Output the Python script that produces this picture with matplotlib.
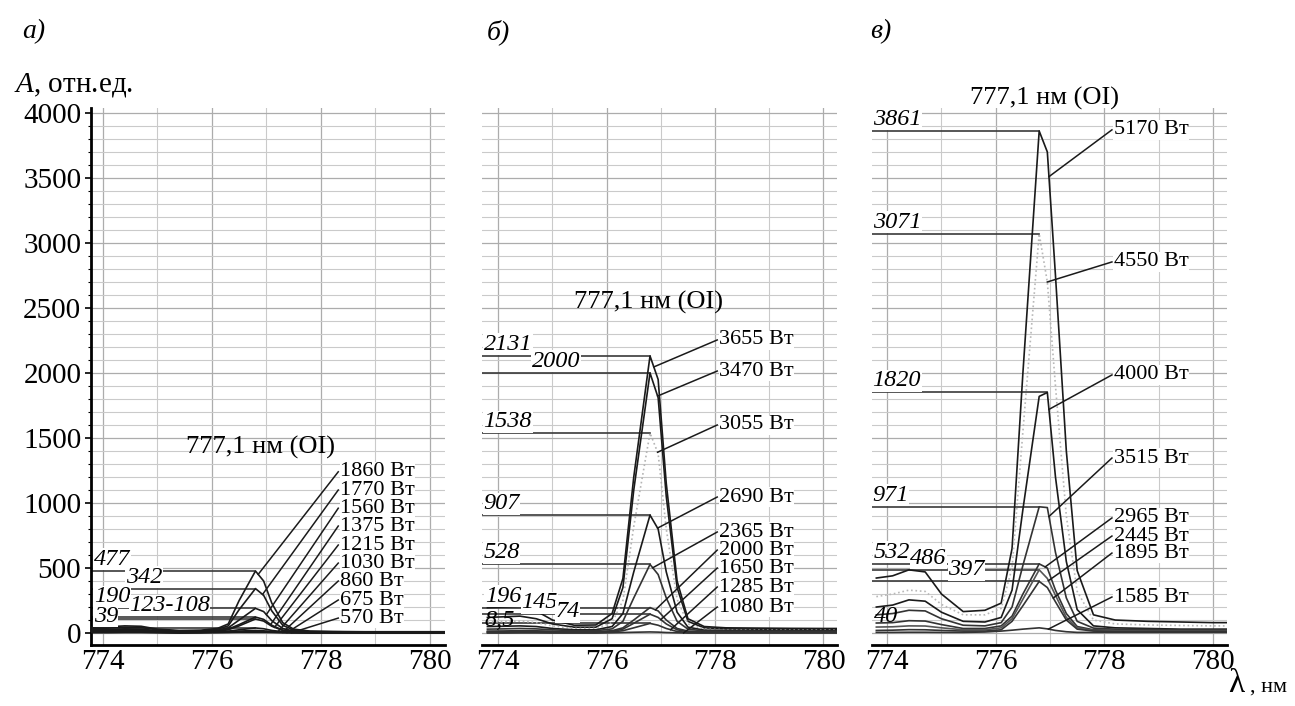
import numpy as np
import matplotlib
matplotlib.use("Agg")
import matplotlib.pyplot as plt
from matplotlib.ticker import MultipleLocator

plt.rcParams['font.family'] = ['Liberation Serif', 'DejaVu Serif']
plt.rcParams['mathtext.fontset'] = 'custom'
plt.rcParams['mathtext.it'] = 'Liberation Serif:italic'
plt.rcParams['mathtext.rm'] = 'Liberation Serif'

# ---------------- data ----------------
wavelength = [773.8, 774.1, 774.4, 774.7, 775.0, 775.4, 775.8, 776.1, 776.3, 776.5,
              776.8, 776.95, 777.1, 777.3, 777.5, 777.8, 778.2, 778.8, 779.4, 780.0, 780.3]

# panel а
powers_a = ["1860 Вт", "1770 Вт", "1560 Вт", "1375 Вт", "1215 Вт", "1030 Вт", "860 Вт", "675 Вт", "570 Вт"]
a_1860 = [45, 48, 55, 52, 30, 20, 22, 35, 70, 250, 477, 400, 230, 80, 30, 15, 12, 10, 10, 10, 10]
a_1770 = [35, 38, 45, 42, 25, 15, 18, 30, 55, 180, 342, 290, 170, 60, 22, 12, 10, 8, 8, 8, 8]
a_1560 = [25, 27, 32, 30, 18, 10, 12, 22, 40, 100, 190, 165, 95, 35, 15, 8, 8, 6, 6, 6, 6]
a_1375 = [20, 22, 25, 24, 14, 8, 10, 18, 30, 65, 123, 105, 60, 22, 10, 6, 6, 5, 5, 5, 5]
a_1215 = [15, 17, 20, 19, 10, 5, 8, 15, 25, 55, 108, 92, 52, 20, 8, 5, 5, 4, 4, 4, 4]
a_1030 = [10, 11, 13, 12, 8, 4, 6, 10, 15, 25, 39, 33, 20, 10, 5, 4, 4, 3, 3, 3, 3]
a_860 = [8, 8, 10, 10, 6, 3, 5, 8, 10, 15, 20, 17, 12, 6, 4, 3, 3, 3, 3, 3, 3]
a_675 = [5, 5, 6, 6, 4, 2, 3, 5, 6, 8, 10, 9, 7, 4, 3, 2, 2, 2, 2, 2, 2]
a_570 = [3, 3, 4, 4, 3, 1, 2, 3, 4, 5, 5, 5, 4, 3, 2, 1, 1, 1, 1, 1, 1]
peak_texts_a = ["477", "342", "190", "123-108", "39"]

# panel б
powers_b = ["3655 Вт", "3470 Вт", "3055 Вт", "2690 Вт", "2365 Вт", "2000 Вт", "1650 Вт", "1285 Вт", "1080 Вт"]
b_3655 = [195, 200, 205, 170, 100, 60, 62, 150, 420, 1200, 2131, 1950, 1150, 400, 110, 50, 40, 38, 36, 35, 35]
b_3470 = [120, 125, 130, 110, 70, 45, 45, 110, 350, 1100, 2000, 1810, 1050, 350, 90, 40, 32, 30, 30, 30, 30]
b_3055 = [85, 88, 92, 80, 55, 35, 35, 80, 250, 820, 1538, 1380, 800, 260, 70, 30, 25, 24, 24, 24, 24]
b_2690 = [50, 52, 55, 50, 35, 25, 25, 50, 150, 470, 907, 800, 470, 160, 45, 22, 20, 20, 20, 20, 20]
b_2365 = [30, 32, 35, 32, 25, 18, 18, 32, 90, 270, 528, 450, 270, 90, 30, 16, 15, 15, 15, 15, 15]
b_2000 = [15, 16, 18, 17, 14, 10, 10, 18, 40, 100, 196, 170, 100, 35, 15, 10, 10, 10, 10, 10, 10]
b_1650 = [10, 10, 12, 12, 10, 8, 8, 12, 30, 75, 145, 120, 70, 25, 10, 8, 8, 8, 8, 8, 8]
b_1285 = [5, 5, 6, 6, 5, 4, 4, 8, 18, 40, 74, 60, 35, 12, 5, 4, 4, 4, 4, 4, 4]
b_1080 = [0, 0, 1, 1, 0, 0, 0, 2, 4, 6, 8.5, 7, 4, 2, 0, 0, 0, 0, 0, 0, 0]
peak_texts_b = ["2131", "2000", "1538", "907", "528", "196", "145", "74", "8,5"]

# panel в
powers_c = ["5170 Вт", "4550 Вт", "4000 Вт", "3515 Вт", "2965 Вт", "2445 Вт", "1895 Вт", "1585 Вт"]
c_5170 = [423, 440, 486, 470, 300, 165, 175, 230, 650, 2000, 3861, 3700, 2750, 1400, 480, 140, 100, 90, 85, 80, 80]
c_4550 = [280, 300, 330, 320, 220, 140, 140, 190, 500, 1550, 3071, 2700, 1900, 900, 320, 100, 70, 62, 58, 55, 55]
c_4000 = [200, 215, 255, 245, 160, 90, 85, 120, 330, 950, 1820, 1850, 1200, 550, 180, 55, 40, 35, 30, 30, 30]
c_3515 = [140, 150, 175, 170, 110, 60, 55, 80, 200, 520, 971, 965, 620, 270, 90, 38, 30, 28, 25, 25, 25]
c_2965 = [77, 80, 95, 92, 65, 35, 35, 55, 130, 300, 532, 500, 330, 150, 50, 25, 22, 20, 20, 20, 20]
c_2445 = [46, 48, 55, 54, 40, 25, 25, 40, 110, 260, 486, 420, 290, 120, 40, 20, 18, 16, 16, 16, 16]
c_1895 = [20, 22, 26, 25, 20, 15, 15, 25, 90, 210, 397, 350, 240, 100, 30, 15, 12, 12, 12, 12, 12]
c_1585 = [5, 5, 6, 6, 5, 5, 8, 15, 22, 30, 40, 32, 20, 10, 5, 5, 5, 5, 5, 5, 5]
peak_texts_c = ["3861", "3071", "1820", "971", "532", "486", "397", "40"]

x_ticks = [774, 776, 778, 780]
y_ticks = [0, 500, 1000, 1500, 2000, 2500, 3000, 3500, 4000]

# ---------------- layout / styles ----------------
W, H = 1295, 706
fig = plt.figure(figsize=(W / 100, H / 100), dpi=100)

def px_rect(l, r, b, t):
    return [l / W, 1 - b / H, (r - l) / W, (b - t) / H]

ax_a = fig.add_axes(px_rect(91, 445, 645, 108))
ax_b = fig.add_axes(px_rect(482, 837, 645, 108))
ax_c = fig.add_axes(px_rect(872, 1227, 645, 108))
xlims = [(773.78, 780.28), (773.70, 780.25), (773.72, 780.26)]

series_a = [a_1860, a_1770, a_1560, a_1375, a_1215, a_1030, a_860, a_675, a_570]
series_b = [b_3655, b_3470, b_3055, b_2690, b_2365, b_2000, b_1650, b_1285, b_1080]
series_c = [c_5170, c_4550, c_4000, c_3515, c_2965, c_2445, c_1895, c_1585]

dark = '#1a1a1a'
styles_a = [(dark, '-')] * 9
styles_b = [(dark, '-'), (dark, '-'), ('#b4b4b4', ':'), (dark, '-'), ('#333333', '-'),
            ('#333333', '-'), ('#333333', '-'), ('#333333', '-'), ('#333333', '-')]
styles_c = [(dark, '-'), ('#b8b8b8', ':'), (dark, '-'), ('#333333', '-'), ('#333333', '-'),
            ('#555555', '-'), ('#333333', '-'), ('#333333', '-')]

# peak-label text placement: (x, series index for y)
peak_pos_a = [(773.83, 0), (774.42, 1), (773.83, 2), (774.48, 3), (773.83, 5)]
peak_lines_a = [0, 1, 2, 3, 4, 5]
peak_pos_b = [(773.73, 0), (774.62, 1), (773.73, 2), (773.73, 3), (773.73, 4),
              (773.75, 5), (774.42, 6), (775.05, 7), (773.75, 8)]
peak_lines_b = [0, 1, 2, 3, 4, 5, 6, 7]
peak_pos_c = [(773.73, 0), (773.73, 1), (773.73, 2), (773.73, 3), (773.75, 4),
              (774.42, 5), (775.12, 6), (773.75, 7)]
peak_lines_c = [0, 1, 2, 3, 4, 5, 6]
nobox_b = {8}
nobox_c = {7}

# power-label placement
pw_x = [778.30, 778.02, 778.12]
pw_y_a = [1240, 1100, 960, 823, 677, 538, 400, 254, 115]
pw_y_b = [2254, 2015, 1600, 1046, 777, 638, 500, 354, 200]
pw_y_c = [3870, 2854, 1985, 1346, 885, 746, 615, 277]
end_x_a = [776.85, 776.93, 777.0, 777.08, 777.15, 777.22, 777.3, 777.38, 777.46]
end_x_b = [776.87, 776.94, 776.94, 776.94, 776.85, 776.9, 777.0, 777.18, 777.42]
end_x_c = [776.98, 776.95, 776.98, 776.98, 776.91, 776.97, 777.06, 776.97]

title_pos = [(776.9, 1430), (776.78, 2546), (776.89, 4115)]

wl = np.array(wavelength)

panels = [
    (ax_a, series_a, styles_a, powers_a, peak_texts_a, peak_pos_a, peak_lines_a, set(), pw_y_a, end_x_a),
    (ax_b, series_b, styles_b, powers_b, peak_texts_b, peak_pos_b, peak_lines_b, nobox_b, pw_y_b, end_x_b),
    (ax_c, series_c, styles_c, powers_c, peak_texts_c, peak_pos_c, peak_lines_c, nobox_c, pw_y_c, end_x_c),
]

for k, (ax, ser, sty, pw, ptxt, ppos, plines, nobox, pwy, endx) in enumerate(panels):
    ax.set_xlim(*xlims[k])
    ax.set_ylim(-92, 4038)
    ax.xaxis.set_minor_locator(MultipleLocator(1))
    ax.set_xticks(x_ticks)
    ax.yaxis.set_major_locator(MultipleLocator(500))
    ax.yaxis.set_minor_locator(MultipleLocator(100))
    ax.grid(True, which='minor', axis='both', color='#cacaca', lw=0.8, zorder=0)
    ax.grid(True, which='major', axis='both', color='#acacac', lw=0.9, zorder=0)
    ax.set_axisbelow(True)
    for s in ['top', 'right']:
        ax.spines[s].set_visible(False)
    ax.spines['bottom'].set_linewidth(2.0)
    ax.spines['bottom'].set_position(('data', -92))
    ax.tick_params(axis='x', which='both', length=0, pad=3, labelsize=21)
    if k == 0:
        ax.spines['left'].set_linewidth(2.0)
        ax.set_yticks(y_ticks)
        ax.tick_params(axis='y', which='major', length=4, width=1.2, pad=3, labelsize=21)
        ax.tick_params(axis='y', which='minor', length=2.5, width=0.8)
    else:
        ax.spines['left'].set_visible(False)
        ax.tick_params(axis='y', which='both', length=0, labelleft=False)

    # curves
    for vals, (col, ls) in zip(ser, sty):
        ax.plot(wl, vals, color=col, ls=ls, lw=1.2, zorder=3)

    # horizontal peak lines
    for i in plines:
        v = np.array(ser[i])
        j = int(np.argmax(v))
        ax.plot([xlims[k][0], wl[j]], [v[j], v[j]], color='#3a3a3a', lw=1.2, zorder=2)

    # peak value labels
    for n, (txt, (px, si)) in enumerate(zip(ptxt, ppos)):
        yv = max(ser[si])
        kw = {}
        if n not in nobox:
            kw['bbox'] = dict(facecolor='white', edgecolor='none', pad=0.3)
        ax.text(px, yv + 8, txt, ha='left', va='bottom', fontsize=17.5,
                style='italic', zorder=4, **kw)

    # power labels with leaders
    for i, (lab, yt, xe) in enumerate(zip(pw, pwy, endx)):
        ye = float(np.interp(xe, wl, ser[i]))
        ax.plot([xe, pw_x[k] + 0.02], [ye, yt], color='#1a1a1a', lw=1.1, zorder=5)
        ax.text(pw_x[k] + 0.05, yt, lab, ha='left', va='center', fontsize=16,
                zorder=6, bbox=dict(facecolor='white', edgecolor='none', pad=0.1))

    tx, ty = title_pos[k]
    ax.text(tx, ty, "777,1 нм (OI)", ha='center', va='center', fontsize=19,
            clip_on=False, zorder=6)

# figure texts
fig.text(22 / W, 1 - 32 / H, "а)", fontsize=20, style='italic', ha='left', va='center')
fig.text(487 / W, 1 - 32 / H, "б)", fontsize=20, style='italic', ha='left', va='center')
fig.text(870 / W, 1 - 32 / H, "в)", fontsize=20, style='italic', ha='left', va='center')
fig.text(14 / W, 1 - 85 / H, r"$A$, отн.ед.", fontsize=21, ha='left', va='center')
fig.text(1228 / W, 1 - 684 / H, "λ", fontsize=24, ha='left', va='center')
fig.text(1250 / W, 1 - 687 / H, ", нм", fontsize=16, ha='left', va='center')

fig.savefig("out.png", dpi=100)
